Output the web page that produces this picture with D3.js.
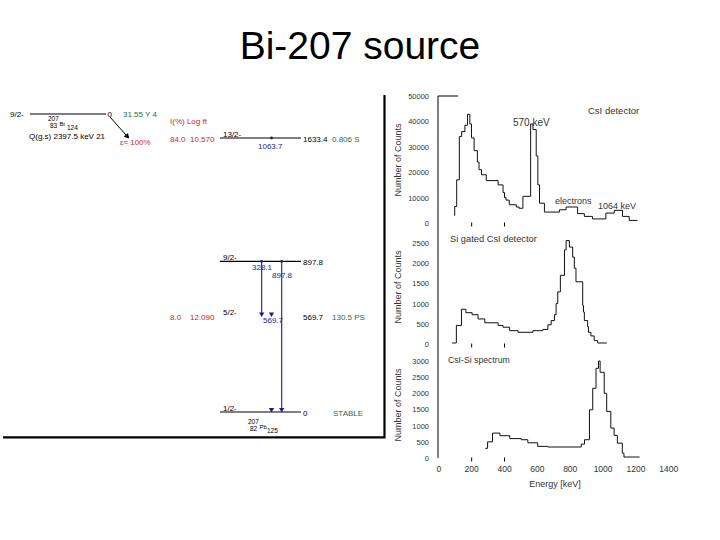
<!DOCTYPE html>
<html>
<head>
<meta charset="utf-8">
<script src="https://cdn.jsdelivr.net/npm/d3@7/dist/d3.min.js"></script>
<style>
  body { margin: 0; background: #fff; }
  svg text { font-family: "Liberation Sans", Arial, sans-serif; }
</style>
</head>
<body>
<div id="canvas"></div>
<script>
// ---- spectra (energy = bin start in keV, counts per bin) ----
var csiEnergy = [97, 100, 112, 128, 142, 162, 178, 192, 202, 218, 238, 248, 263, 292, 364, 394, 403, 412, 432, 475,
  492, 515, 562, 576, 596, 606, 616, 646, 737, 778, 848, 889, 939, 1020, 1071, 1121, 1162, 1212];
var csiCounts = [3000, 6500, 17000, 34000, 36000, 38500, 42800, 39000, 33500, 28500, 24000, 21000, 19000, 16700, 15000, 12000, 10000, 9000, 7200, 6300,
  5800, 10500, 39000, 36800, 26400, 15000, 7800, 4300, 5200, 6300, 3700, 2600, 1600, 3900, 5000, 2600, 1000, 1000];

var gatedEnergy = [84, 110, 141, 168, 206, 242, 283, 364, 394, 434, 485, 576, 636, 667, 687, 707, 717, 727, 743, 768,
  778, 798, 818, 828, 838, 879, 884, 889, 909, 914, 929, 949, 970, 1026];
var gatedCounts = [25, 460, 860, 775, 725, 620, 525, 460, 415, 330, 290, 330, 360, 475, 580, 725, 1000, 1290, 1700, 2330,
  2560, 2400, 2150, 1875, 1540, 950, 790, 580, 430, 290, 200, 85, 25, 25];

var sumEnergy = [285, 300, 330, 375, 435, 505, 545, 605, 667, 870, 890, 920, 940, 960, 975, 985, 1010, 1025, 1050, 1070,
  1090, 1120, 1130, 1225];
var sumCounts = [300, 500, 770, 690, 600, 565, 470, 360, 340, 430, 565, 1490, 2157, 2773, 3000, 2650, 2000, 1440, 925, 700,
  460, 150, 30, 30];

var energyTicks = [0, 200, 400, 600, 800, 1000, 1200, 1400];
var csiTicks = [0, 10000, 20000, 30000, 40000, 50000];
var gatedTicks = [0, 500, 1000, 1500, 2000, 2500];
var sumTicks = [0, 500, 1000, 1500, 2000, 2500, 3000];

// ---- decay scheme of 207Bi -> 207Pb ----
var levelEnergies = [1633.4, 897.8, 569.7, 0];
var levelSpins = ["13/2-", "9/2-", "5/2-", "1/2-"];
var levelLabels = ["1633.4", "897.8", "569.7", "0"];
var levelHalfLives = ["0.806 S", "", "130.5 PS", "STABLE"];
var levelFeeds = ["84.0", "", "8.0", ""];
var levelLogft = ["10.570", "", "12.090", ""];

var gammaLabels = ["1063.7", "328.1", "897.8", "569.7"];
var gammaFrom = [1633.4, 897.8, 897.8, 569.7];
var gammaTo = [569.7, 569.7, 0, 0];

var red = "#c4282d", green = "#2a6e3f", blue = "#1c1c8c";

var svg = d3.select("#canvas").append("svg")
  .attr("width", 720)
  .attr("height", 540);

// title
svg.append("text")
  .attr("x", 360).attr("y", 59)
  .attr("text-anchor", "middle")
  .style("font-size", "39px")
  .text("Bi-207 source");

// ================= decay scheme =================
var scheme = svg.append("g").style("font-size", "8px");
var yLevel = d3.scaleLinear().domain([0, 1633.4]).range([412, 138]);

// frame of the pasted figure
scheme.append("path")
  .attr("d", "M3,437.3H384.5V95")
  .attr("fill", "none")
  .attr("stroke", "#000")
  .attr("stroke-width", 2.2);

function txt(x, y, s, color) {
  return scheme.append("text").attr("x", x).attr("y", y).attr("fill", color || "#000").text(s);
}

// nuclide symbol with mass / charge stacked on the left
function nuclide(x, y, mass, z, sym, n) {
  txt(x, y - 3, mass).style("font-size", "6.5px");
  txt(x + 2, y + 4, z).style("font-size", "6.5px");
  txt(x + 11.5, y + 1.5, sym).style("font-size", "6px");
  txt(x + 19, y + 5.5, n).style("font-size", "6.5px");
}

// parent 207Bi
var parentY = 114;
txt(10, parentY + 3, "9/2-");
scheme.append("line").attr("x1", 30).attr("x2", 106).attr("y1", parentY).attr("y2", parentY)
  .attr("stroke", "#000").attr("stroke-width", 1.2);
txt(107.5, parentY + 3, "0");
txt(123, parentY + 3, "31.55 Y 4", green);
nuclide(48, 124, "207", "83", "Bi", "124");
txt(29, 139, "Q(g.s)  2397.5 keV 21");
txt(120, 145, "ε≈ 100%", red);
txt(170, 124, "I(%)  Log ft", red);

// EC arrow
scheme.append("line").attr("x1", 110).attr("y1", 117).attr("x2", 126).attr("y2", 135)
  .attr("stroke", "#000").attr("stroke-width", 1);
scheme.append("path")
  .attr("d", d3.symbol(d3.symbolTriangle, 14))
  .attr("transform", "translate(127,136) rotate(138)")
  .attr("fill", "#000");

// levels of 207Pb
levelEnergies.forEach(function(e, i) {
  var y = yLevel(e);
  if (e !== 569.7) {
    scheme.append("line").attr("x1", 220).attr("x2", 301).attr("y1", y).attr("y2", y)
      .attr("stroke", "#000").attr("stroke-width", 1.2);
  }
  txt(223, y - 1.5, levelSpins[i]);
  txt(303, y + 4, levelLabels[i]);
  if (levelHalfLives[i]) txt(i === 3 ? 333 : 332, y + 4, levelHalfLives[i], green);
  if (levelFeeds[i]) {
    txt(170, y + 4, levelFeeds[i], red);
    txt(190, y + 4, levelLogft[i], red);
  }
});
nuclide(248, 427, "207", "82", "Pb", "125");

// gamma transitions
var gammaX = { "1063.7": 271.5, "328.1": 261.7, "897.8": 281.7, "569.7": 271.5 };
var gammaText = { "1063.7": [258, 11], "328.1": [252, 9], "897.8": [272, 17], "569.7": [263, 6.5] };
var gammaDrawn = ["328.1", "897.8"];

gammaLabels.forEach(function(g, i) {
  var gx = gammaX[g], y0 = yLevel(gammaFrom[i]), y1 = yLevel(gammaTo[i]);
  if (gammaDrawn.indexOf(g) >= 0) {
    scheme.append("line").attr("x1", gx).attr("x2", gx).attr("y1", y0).attr("y2", y1 - 3)
      .attr("stroke", blue).attr("stroke-width", 1.1);
  }
  if (g !== "569.7") {
    scheme.append("circle").attr("cx", gx).attr("cy", y0).attr("r", 1.4).attr("fill", blue);
  }
  scheme.append("path")
    .attr("d", d3.symbol(d3.symbolTriangle, 12))
    .attr("transform", "translate(" + gx + "," + (y1 - 2.5) + ") rotate(180)")
    .attr("fill", blue);
  txt(gammaText[g][0], y0 + gammaText[g][1], g, blue);
});

// ================= spectra =================
var x = d3.scaleLinear().domain([0, 1400]).range([438.3, 668.3]);
var spec = svg.append("g");

var panels = [
  { energy: csiEnergy, counts: csiCounts, ticks: csiTicks, y: d3.scaleLinear().domain([0, 50000]).range([223, 96]), labelY: 160 },
  { energy: gatedEnergy, counts: gatedCounts, ticks: gatedTicks, y: d3.scaleLinear().domain([0, 2500]).range([344, 243]), labelY: 287 },
  { energy: sumEnergy, counts: sumCounts, ticks: sumTicks, y: d3.scaleLinear().domain([0, 3000]).range([458, 361]), labelY: 405 }
];

// shared y axis line
spec.append("line").attr("x1", 438).attr("x2", 438).attr("y1", 96).attr("y2", 458)
  .attr("stroke", "#000").attr("stroke-width", 1);
spec.append("line").attr("x1", 438).attr("x2", 458).attr("y1", 96).attr("y2", 96)
  .attr("stroke", "#000").attr("stroke-width", 1);

panels.forEach(function(p) {
  // y tick labels
  var ya = spec.append("g")
    .attr("transform", "translate(438,0)")
    .call(d3.axisLeft(p.y).tickValues(p.ticks).tickSize(0).tickPadding(9).tickFormat(d3.format("d")));
  ya.select(".domain").remove();
  ya.selectAll("text").style("font-size", "7.5px").attr("fill", "#333").style("font-family", "Liberation Sans, Arial");

  // small ticks on the baseline
  var xt = spec.append("g")
    .attr("transform", "translate(0," + (p.y(0) - 0.5) + ")")
    .call(d3.axisBottom(x).tickValues([200, 400]).tickSize(4).tickFormat(""));
  xt.select(".domain").remove();

  // y label
  spec.append("text")
    .attr("transform", "translate(401," + p.labelY + ") rotate(-90)")
    .attr("text-anchor", "middle")
    .attr("fill", "#333")
    .style("font-size", "9px")
    .text("Number of Counts");

  // histogram
  var pts = p.energy.map(function(e, i) { return [e, p.counts[i]]; });
  spec.append("path")
    .datum(pts)
    .attr("fill", "none")
    .attr("stroke", "#111")
    .attr("stroke-width", 1)
    .attr("d", d3.line()
      .curve(d3.curveStepAfter)
      .x(function(d) { return x(d[0]); })
      .y(function(d) { return p.y(d[1]); }));
});

// x axis labels
var xa = spec.append("g")
  .attr("transform", "translate(0,458)")
  .call(d3.axisBottom(x).tickValues(energyTicks).tickSize(0).tickPadding(8).tickFormat(d3.format("d")));
xa.select(".domain").remove();
xa.selectAll("text").style("font-size", "8.5px").attr("fill", "#333").style("font-family", "Liberation Sans, Arial");

spec.append("text").attr("x", 555).attr("y", 487).attr("text-anchor", "middle")
  .attr("fill", "#333").style("font-size", "9px").text("Energy [keV]");

// panel annotations
function note(x0, y0, size, s) {
  spec.append("text").attr("x", x0).attr("y", y0).attr("fill", "#333").style("font-size", size + "px").text(s);
}
note(588, 114, 9.5, "CsI detector");
note(513, 125.5, 10, "570 keV");
note(555, 204, 9, "electrons");
note(598, 209, 9, "1064 keV");
note(450, 242, 9.3, "Si gated CsI detector");
note(448, 363, 8.7, "CsI-Si spectrum");
</script>
</body>
</html>
